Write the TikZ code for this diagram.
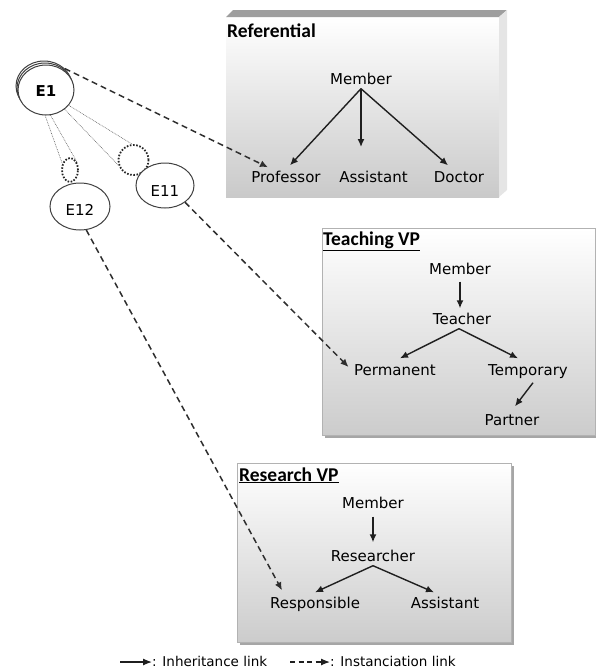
\documentclass[tikz,border=0pt]{standalone}
\usepackage{fontspec}
\setmainfont{DejaVu Sans}
\newfontfamily\titlefont{Carlito}
\usetikzlibrary{arrows.meta,shapes.geometric}

\tikzset{
  lbl/.style={font=\fontsize{15}{15}\selectfont, inner sep=1.5pt, text height=11pt, text depth=3pt},
  ttl/.style={font=\titlefont\bfseries\fontsize{19.5}{20}\selectfont, inner sep=0pt, anchor=base west},
  leg/.style={font=\fontsize{13.5}{14}\selectfont, inner sep=0pt, anchor=west},
  inh/.style={line width=1.4pt, draw=black!88, -{Latex[length=8pt,width=7pt]}},
  inst/.style={line width=1.5pt, draw=black!82, dash pattern=on 6pt off 4pt, -{Latex[length=8pt,width=7pt]}},
  legarrow/.style={line width=1.2pt, draw=black!88, -{Latex[length=9pt,width=7pt]}},
  ent/.style={ellipse, draw=black!75, line width=1pt, fill=white, inner sep=0pt, font=\fontsize{15}{15}\selectfont},
  ghost/.style={ellipse, draw=black!85, line width=1.8pt, dash pattern=on 1.6pt off 1.6pt, inner sep=0pt},
  link/.style={draw=black!60, line width=0.6pt, dash pattern=on 0.8pt off 0.9pt},
  panel/.style={draw=black!30, line width=0.8pt, top color=white, bottom color=black!20},
  panelshadow/.style={fill=black!35, draw=none}
}

\begin{document}
\begin{tikzpicture}[x=1pt,y=-1pt]
\useasboundingbox (0,0) rectangle (596,670);

% ---- Referential: bevelled 3D panel ----
\shade[top color=white, bottom color=black!21] (226,17) rectangle (499,197);
\fill[black!38] (226,17) -- (233,10) -- (507,10) -- (499,17) -- cycle;
\fill[black!10] (499,17) -- (507,10) -- (507,190) -- (499,197) -- cycle;
\node[ttl] (refT) at (227,37) {Referential};

% ---- Teaching VP panel ----
\fill[panelshadow] (325,231) rectangle (597,438);
\path[panel] (322,228) rectangle (595,435);
\node[ttl] (teachT) at (323,245) {\underline{Teaching VP}};

% ---- Research VP panel ----
\fill[panelshadow] (240,466) rectangle (514,645);
\path[panel] (237,463) rectangle (511,642);
\node[ttl] (resT) at (239,481) {\underline{Research VP}};

% ---- Referential hierarchy ----
\node[lbl] (mA) at (361,80) {Member};
\node[lbl] (prof) at (286,178) {Professor};
\node[lbl] (asst) at (373.5,178) {Assistant};
\node[lbl] (doc) at (459,178) {Doctor};
\coordinate (asstip) at (361,147);
\draw[inh] (mA.south) -- ([xshift=4pt,yshift=4pt]prof.north);
\draw[inh] (mA.south) -- (asstip);
\draw[inh] (mA.south) -- ([xshift=-11pt,yshift=4pt]doc.north);

% ---- Teaching hierarchy ----
\node[lbl] (mT) at (460,270) {Member};
\node[lbl] (teach) at (462,320) {Teacher};
\node[lbl] (perm) at (395,371) {Permanent};
\node[lbl] (temp) at (528,371) {Temporary};
\node[lbl] (part) at (512,421) {Partner};
\draw[inh] ([yshift=-3pt]mT.south) -- ([yshift=3pt]mT.south |- teach.north);
\draw[inh] ([xshift=-3pt]teach.south) -- ([xshift=5pt,yshift=4pt]perm.north);
\draw[inh] ([xshift=-3pt]teach.south) -- ([xshift=-10pt,yshift=4pt]temp.north);
\draw[inh] ([xshift=5pt,yshift=-3pt]temp.south) -- ([xshift=3pt,yshift=6pt]part.north);

% ---- Research hierarchy ----
\node[lbl] (mR) at (373,504) {Member};
\node[lbl] (res) at (373,557) {Researcher};
\node[lbl] (resp) at (315,604) {Responsible};
\node[lbl] (asst2) at (445,604) {Assistant};
\draw[inh] ([yshift=-4pt]mR.south) -- ([yshift=6pt]res.north);
\draw[inh] (res.south) -- ([yshift=3pt]resp.north);
\draw[inh] (res.south) -- ([xshift=-11pt,yshift=3pt]asst2.north);

% ---- entity E1 (stacked) and its variation points ----
\node[ent, minimum width=56pt, minimum height=50pt] (E1c) at (44,86) {};
\node[ent, minimum width=56pt, minimum height=50pt] (E1b) at (45,88) {};
\node[ghost, minimum width=30pt, minimum height=30pt] (c11) at (133.5,160) {};
\node[ghost, minimum width=16pt, minimum height=24pt] (c12) at (70,170) {};
\node[ent, minimum width=56pt, minimum height=50pt, draw=none, fill=none] (E1) at (46,90) {};
\draw[link] (E1.-34) -- (c11.95);
\draw[link] (E1.-46) -- (c11.200);
\draw[link] (E1.-92) -- (c12.140);
\draw[link] (E1.-80) -- (c12.45);
\node[ent, minimum width=56pt, minimum height=50pt, text height=13pt] at (E1.center) {\bfseries E1};
\node[ent, minimum width=58pt, minimum height=45pt, text height=21pt] (E11) at (165,185.5) {E11};
\node[ent, minimum width=60pt, minimum height=47pt, text height=18pt] (E12) at (80,206.5) {E12};

% ---- instanciation links ----
\draw[inst] (E1c.40) -- ([xshift=-18pt,yshift=2pt]prof.north);
\draw[inst] (E11.-40) -- ([xshift=-4pt,yshift=4pt]perm.west);
\draw[inst] (E12.-75) -- ([xshift=-33pt,yshift=5pt]resp.north);

% ---- legend ----
\coordinate (l1a) at (120,662);
\coordinate (l1b) at (152,662);
\coordinate (l2a) at (290,662);
\coordinate (l2b) at (330,662);
\draw[legarrow] (l1a) -- (l1b);
\node[leg] (l1t) at (152,661) {: Inheritance link};
\draw[legarrow, dash pattern=on 5pt off 3.5pt] (l2a) -- (l2b);
\node[leg] (l2t) at (330,661) {: Instanciation link};
\end{tikzpicture}
\end{document}
